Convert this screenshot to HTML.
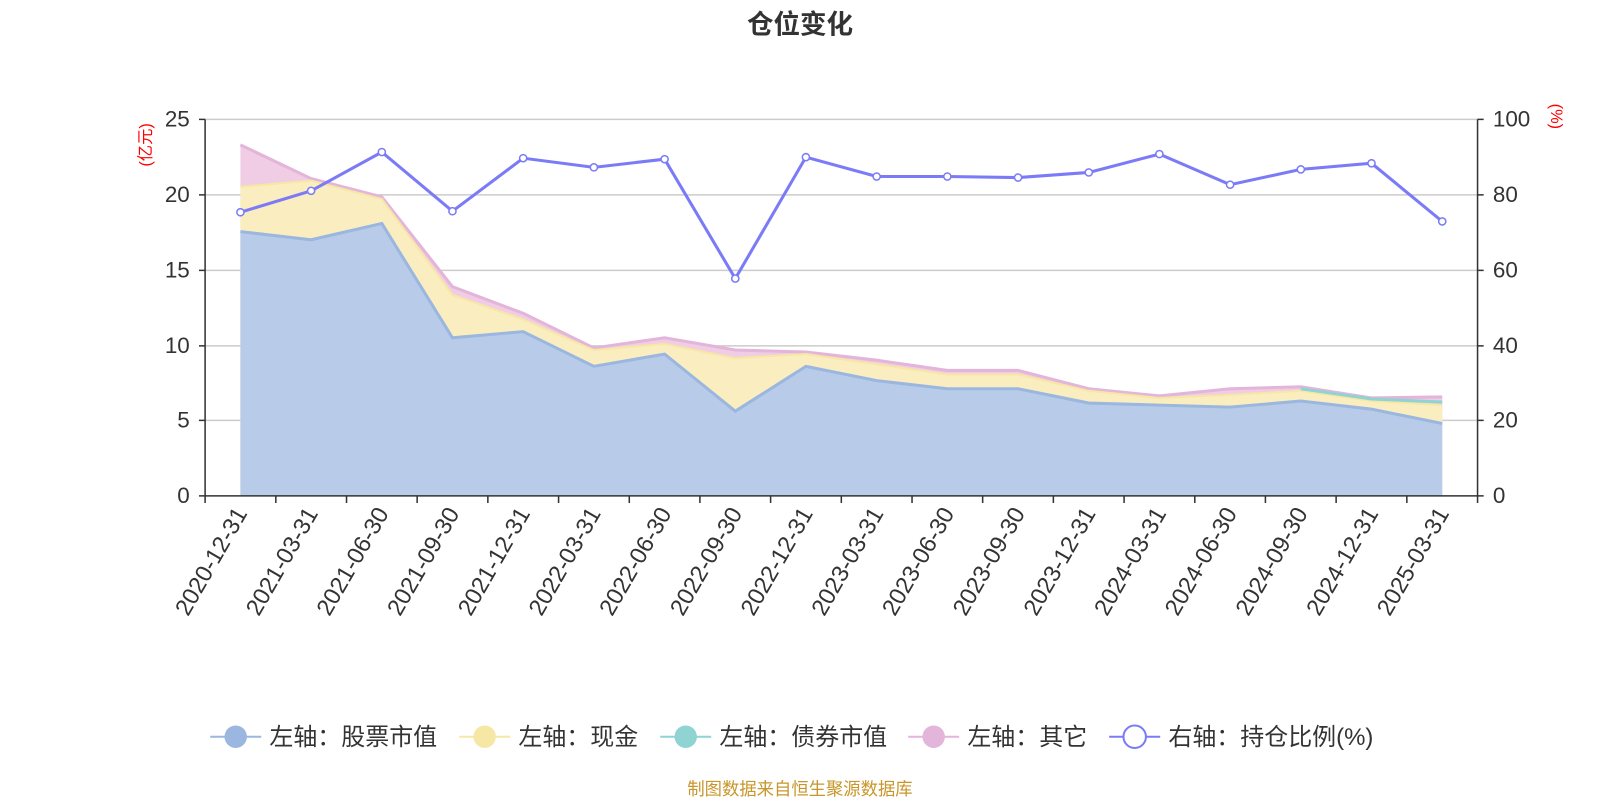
<!DOCTYPE html>
<html><head><meta charset="utf-8"><style>
body{margin:0;background:#fff;}
svg{display:block;font-family:"Liberation Sans","Noto Sans CJK SC",sans-serif;}
</style></head><body>
<svg width="1600" height="800" viewBox="0 0 1568 784" preserveAspectRatio="none" xmlns="http://www.w3.org/2000/svg">
<text x="784" y="33" text-anchor="middle" font-size="26" font-weight="bold" fill="#333">仓位变化</text>
<g stroke="#ccc" stroke-width="1.5">
<line x1="201" y1="117" x2="1448" y2="117"/>
<line x1="201" y1="191" x2="1448" y2="191"/>
<line x1="201" y1="265" x2="1448" y2="265"/>
<line x1="201" y1="339" x2="1448" y2="339"/>
<line x1="201" y1="412" x2="1448" y2="412"/>
</g>
<path d="M235.6,142 L304.9,175 L374.2,193 L443.4,281 L512.7,307 L582,341 L651.3,331 L720.6,343 L789.8,345 L859.1,353 L928.4,363 L997.7,363 L1067,381 L1136.2,388 L1205.5,381 L1274.8,379 L1344.1,390 L1413.4,389 L1413.4,486 L235.6,486Z" fill="#f0cde4"/>
<polyline points="235.6,142 304.9,175 374.2,193 443.4,281 512.7,307 582,341 651.3,331 720.6,343 789.8,345 859.1,353 928.4,363 997.7,363 1067,381 1136.2,388 1205.5,381 1274.8,379 1344.1,390 1413.4,389" fill="none" stroke="#e3b5da" stroke-width="3"/>
<path d="M235.6,183 L304.9,177 L374.2,195 L443.4,289 L512.7,313 L582,343 L651.3,337 L720.6,351 L789.8,347 L859.1,357 L928.4,367 L997.7,367 L1067,383 L1136.2,390 L1205.5,387 L1274.8,383 L1344.1,393 L1413.4,397 L1413.4,486 L235.6,486Z" fill="#faeec0"/>
<polyline points="235.6,183 304.9,177 374.2,195 443.4,289 512.7,313 582,343 651.3,337 720.6,351 789.8,347 859.1,357 928.4,367 997.7,367 1067,383 1136.2,390 1205.5,387 1274.8,383 1344.1,393 1413.4,397" fill="none" stroke="#f7e7a5" stroke-width="2"/>
<polyline points="1274.8,381 1344.1,391 1413.4,394" fill="none" stroke="#8fd3d3" stroke-width="3"/>
<path d="M235.6,227 L304.9,235 L374.2,219 L443.4,331 L512.7,325 L582,359 L651.3,347 L720.6,403 L789.8,359 L859.1,373 L928.4,381 L997.7,381 L1067,395 L1136.2,397 L1205.5,399 L1274.8,393 L1344.1,401 L1413.4,415 L1413.4,486 L235.6,486Z" fill="#b8cce9"/>
<polyline points="235.6,227 304.9,235 374.2,219 443.4,331 512.7,325 582,359 651.3,347 720.6,403 789.8,359 859.1,373 928.4,381 997.7,381 1067,395 1136.2,397 1205.5,399 1274.8,393 1344.1,401 1413.4,415" fill="none" stroke="#9bb7e0" stroke-width="3"/>
<g stroke="#333" stroke-width="1.5" fill="none">
<line x1="201" y1="117" x2="201" y2="486"/>
<line x1="1448" y1="117" x2="1448" y2="486"/>
<line x1="201" y1="486" x2="1448" y2="486"/>
<path d="M195,117h6M195,191h6M195,265h6M195,339h6M195,412h6M195,486h6"/>
<path d="M1448,117h6M1448,191h6M1448,265h6M1448,339h6M1448,412h6M1448,486h6"/>
<path d="M201,486v7M270.3,486v7M339.6,486v7M408.8,486v7M478.1,486v7M547.4,486v7M616.7,486v7M685.9,486v7M755.2,486v7M824.5,486v7M893.8,486v7M963,486v7M1032.3,486v7M1101.6,486v7M1170.9,486v7M1240.1,486v7M1309.4,486v7M1378.7,486v7M1448,486v7"/>
</g>
<g font-size="22" fill="#333" text-anchor="end">
<text x="186" y="124">25</text><text x="186" y="198">20</text><text x="186" y="272">15</text><text x="186" y="346">10</text><text x="186" y="419">5</text><text x="186" y="493">0</text>
</g>
<g font-size="22" fill="#333">
<text x="1463" y="124">100</text><text x="1463" y="198">80</text><text x="1463" y="272">60</text><text x="1463" y="346">40</text><text x="1463" y="419">20</text><text x="1463" y="493">0</text>
</g>
<text transform="translate(148,142) rotate(-90)" text-anchor="middle" font-size="16" fill="#f00">(亿元)</text>
<text transform="translate(1520,114) rotate(90)" text-anchor="middle" font-size="16" fill="#f00">(%)</text>
<g font-size="23" fill="#333" text-anchor="end">
<text transform="translate(243,503) rotate(-60)">2020-12-31</text>
<text transform="translate(312.3,503) rotate(-60)">2021-03-31</text>
<text transform="translate(381.6,503) rotate(-60)">2021-06-30</text>
<text transform="translate(450.8,503) rotate(-60)">2021-09-30</text>
<text transform="translate(520.1,503) rotate(-60)">2021-12-31</text>
<text transform="translate(589.4,503) rotate(-60)">2022-03-31</text>
<text transform="translate(658.7,503) rotate(-60)">2022-06-30</text>
<text transform="translate(728,503) rotate(-60)">2022-09-30</text>
<text transform="translate(797.2,503) rotate(-60)">2022-12-31</text>
<text transform="translate(866.5,503) rotate(-60)">2023-03-31</text>
<text transform="translate(935.8,503) rotate(-60)">2023-06-30</text>
<text transform="translate(1005.1,503) rotate(-60)">2023-09-30</text>
<text transform="translate(1074.4,503) rotate(-60)">2023-12-31</text>
<text transform="translate(1143.6,503) rotate(-60)">2024-03-31</text>
<text transform="translate(1212.9,503) rotate(-60)">2024-06-30</text>
<text transform="translate(1282.2,503) rotate(-60)">2024-09-30</text>
<text transform="translate(1351.5,503) rotate(-60)">2024-12-31</text>
<text transform="translate(1420.8,503) rotate(-60)">2025-03-31</text>
</g>
<polyline points="235.6,208 304.9,187 374.2,149 443.4,207 512.7,155 582,164 651.3,156 720.6,273 789.8,154 859.1,173 928.4,173 997.7,174 1067,169 1136.2,151 1205.5,181 1274.8,166 1344.1,160 1413.4,217" fill="none" stroke="#7b7bf7" stroke-width="3"/>
<g fill="#fff" stroke="#7b7bf7" stroke-width="1.5">
<circle cx="235.6" cy="208" r="3.5"/><circle cx="304.9" cy="187" r="3.5"/><circle cx="374.2" cy="149" r="3.5"/><circle cx="443.4" cy="207" r="3.5"/><circle cx="512.7" cy="155" r="3.5"/><circle cx="582" cy="164" r="3.5"/><circle cx="651.3" cy="156" r="3.5"/><circle cx="720.6" cy="273" r="3.5"/><circle cx="789.8" cy="154" r="3.5"/><circle cx="859.1" cy="173" r="3.5"/><circle cx="928.4" cy="173" r="3.5"/><circle cx="997.7" cy="174" r="3.5"/><circle cx="1067" cy="169" r="3.5"/><circle cx="1136.2" cy="151" r="3.5"/><circle cx="1205.5" cy="181" r="3.5"/><circle cx="1274.8" cy="166" r="3.5"/><circle cx="1344.1" cy="160" r="3.5"/><circle cx="1413.4" cy="217" r="3.5"/>
</g>
<g font-size="23.5" fill="#333">
<line x1="206" y1="722" x2="256" y2="722" stroke="#9bb7e0" stroke-width="2"/><circle cx="231" cy="722" r="11" fill="#9bb7e0"/><text x="264" y="730">左轴：股票市值</text>
<line x1="450" y1="722" x2="500" y2="722" stroke="#f7e7a5" stroke-width="2"/><circle cx="475" cy="722" r="11" fill="#f7e7a5"/><text x="508" y="730">左轴：现金</text>
<line x1="647" y1="722" x2="697" y2="722" stroke="#8fd3d3" stroke-width="2"/><circle cx="672" cy="722" r="11" fill="#8fd3d3"/><text x="705" y="730">左轴：债券市值</text>
<line x1="890" y1="722" x2="940" y2="722" stroke="#e3b5da" stroke-width="2"/><circle cx="915" cy="722" r="11" fill="#e3b5da"/><text x="948" y="730">左轴：其它</text>
<line x1="1087" y1="722" x2="1137" y2="722" stroke="#7b7bf7" stroke-width="2"/><circle cx="1112" cy="722" r="11" fill="#fff" stroke="#7b7bf7" stroke-width="2"/><text x="1145" y="730">右轴：持仓比例(%)</text>
</g>
<text x="784" y="779" text-anchor="middle" font-size="17" fill="#c8962a">制图数据来自恒生聚源数据库</text>
</svg>
</body></html>
